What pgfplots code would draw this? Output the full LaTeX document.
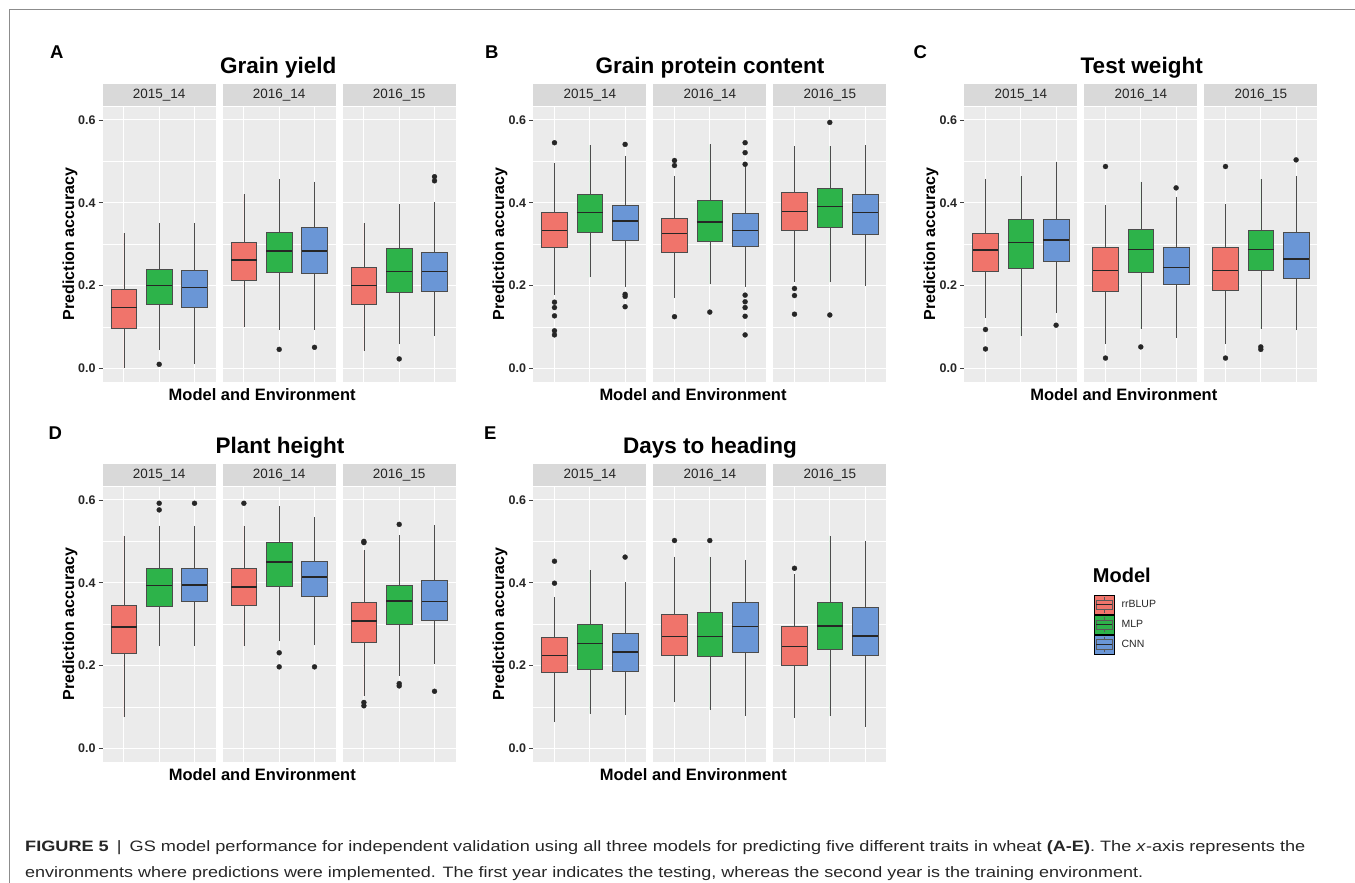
\documentclass[border=0pt]{standalone}
\usepackage{fontspec}
\setmainfont{Liberation Sans}
\usepackage{graphicx}
\usepackage{pgfplots}
\pgfplotsset{compat=1.18}
\usepgfplotslibrary{statistics}
\definecolor{cR}{HTML}{F0746B}
\definecolor{cG}{HTML}{2DB34A}
\definecolor{cB}{HTML}{6A96D6}
\definecolor{panelbg}{HTML}{EBEBEB}
\definecolor{stripbg}{HTML}{D9D9D9}
\pgfplotsset{
  facet/.style={
    scale only axis, width=113pt, height=275pt,
    xmin=0.4, xmax=3.6, ymin=-0.032, ymax=0.632,
    axis background/.style={fill=panelbg},
    axis line style={draw=none},
    xtick={1,2,3}, xticklabels={},
    ytick={0,0.2,0.4,0.6}, yticklabels={},
    minor ytick={0.1,0.3,0.5},
    grid=both,
    major grid style={white, line width=1.1pt},
    minor grid style={white, line width=0.55pt},
    xtick style={draw=none}, ytick style={draw=none},
    ytick pos=left, xtick pos=left,
    minor tick length=0pt, major tick length=4pt, tick align=outside,
    every axis title/.style={at={(0.5,1)}, anchor=south, fill=stripbg, minimum width=113pt, minimum height=22.7pt, inner sep=0pt, text=black!85, font=\fontsize{13.5}{14}\selectfont},
  },
  firstfacet/.style={
    yticklabels={0.0,0.2,0.4,0.6},
    ytick style={draw=black!75, line width=0.6pt},
    yticklabel style={font=\bfseries\fontsize{12.5}{13}\selectfont, text=black!85, inner sep=0pt, xshift=-3pt},
  },
  bp/.style={draw=black!70, line width=0.6pt, mark=*, mark size=2.5pt,
    mark options={fill=black!85, draw=black!85, line width=0.3pt},
    boxplot/draw direction=y, boxplot/box extend=0.73, boxplot/whisker extend=0,
    boxplot/every median/.style={line width=1.5pt, draw=black!85}},
  bx/.style n args={6}{boxplot prepared={draw position=#1, lower whisker=#2, lower quartile=#3, median=#4, upper quartile=#5, upper whisker=#6}},
  boxlegend/.style={legend image code/.code={
    \path (0pt,-9.7pt) rectangle (20pt,9.7pt);
    \draw[black!65, line width=0.6pt] (10pt,-7.8pt) -- (10pt,-4.85pt) (10pt,4.85pt) -- (10pt,7.8pt);
    \draw[##1, draw=black!65, line width=0.6pt] (2pt,-4.85pt) rectangle (18pt,4.85pt);
    \draw[black!85, line width=1.1pt] (2pt,0pt) -- (18pt,0pt);
  }},
}
\begin{document}
\begin{tikzpicture}[x=1pt,y=1pt]
\useasboundingbox (0,0) rectangle (1355,883);
\draw[black!45, line width=1pt] (9,0) -- (9,873.7) -- (1355,873.7);

% ---------------- Panel A: Grain yield ----------------
\begin{axis}[facet, firstfacet, at={(102.7pt,501.3pt)}, anchor=south west, title={2015\_14}]
\addplot[bp, fill=cR, bx={1}{0.0}{0.098}{0.147}{0.191}{0.326}] coordinates {};
\addplot[bp, fill=cG, bx={2}{0.044}{0.156}{0.2005}{0.240}{0.350}] table[row sep=\\, y index=0] {v\\0.010\\};
\addplot[bp, fill=cB, bx={3}{0.0105}{0.147}{0.196}{0.2376}{0.350}] coordinates {};
\end{axis}
\begin{axis}[facet, at={(222.7pt,501.3pt)}, anchor=south west, title={2016\_14}]
\addplot[bp, fill=cR, bx={1}{0.099}{0.212}{0.262}{0.304}{0.420}] coordinates {};
\addplot[bp, fill=cG, bx={2}{0.094}{0.232}{0.283}{0.329}{0.457}] table[row sep=\\, y index=0] {v\\0.046\\};
\addplot[bp, fill=cB, bx={3}{0.094}{0.2295}{0.283}{0.340}{0.451}] table[row sep=\\, y index=0] {v\\0.051\\};
\end{axis}
\begin{axis}[facet, at={(342.7pt,501.3pt)}, anchor=south west, title={2016\_15}]
\addplot[bp, fill=cR, bx={1}{0.043}{0.156}{0.2005}{0.244}{0.350}] coordinates {};
\addplot[bp, fill=cG, bx={2}{0.058}{0.184}{0.2335}{0.291}{0.396}] table[row sep=\\, y index=0] {v\\0.023\\};
\addplot[bp, fill=cB, bx={3}{0.078}{0.187}{0.2335}{0.2795}{0.401}] table[row sep=\\, y index=0] {v\\0.453\\0.463\\};
\end{axis}

% ---------------- Panel B: Grain protein content ----------------
\begin{axis}[facet, firstfacet, at={(533.3pt,501.3pt)}, anchor=south west, title={2015\_14}]
\addplot[bp, fill=cR, bx={1}{0.178}{0.2915}{0.3334}{0.377}{0.497}] table[row sep=\\, y index=0] {v\\0.545\\0.160\\0.147\\0.127\\0.091\\0.081\\};
\addplot[bp, fill=cG, bx={2}{0.220}{0.328}{0.376}{0.420}{0.539}] coordinates {};
\addplot[bp, fill=cB, bx={3}{0.196}{0.309}{0.356}{0.394}{0.513}] table[row sep=\\, y index=0] {v\\0.541\\0.179\\0.174\\0.149\\};
\end{axis}
\begin{axis}[facet, at={(653.3pt,501.3pt)}, anchor=south west, title={2016\_14}]
\addplot[bp, fill=cR, bx={1}{0.171}{0.281}{0.326}{0.362}{0.465}] table[row sep=\\, y index=0] {v\\0.502\\0.490\\0.125\\};
\addplot[bp, fill=cG, bx={2}{0.203}{0.308}{0.354}{0.406}{0.541}] table[row sep=\\, y index=0] {v\\0.136\\};
\addplot[bp, fill=cB, bx={3}{0.197}{0.2955}{0.333}{0.375}{0.491}] table[row sep=\\, y index=0] {v\\0.545\\0.521\\0.493\\0.177\\0.161\\0.147\\0.126\\0.081\\};
\end{axis}
\begin{axis}[facet, at={(773.3pt,501.3pt)}, anchor=south west, title={2016\_15}]
\addplot[bp, fill=cR, bx={1}{0.209}{0.334}{0.3785}{0.426}{0.537}] table[row sep=\\, y index=0] {v\\0.193\\0.176\\0.131\\};
\addplot[bp, fill=cG, bx={2}{0.208}{0.340}{0.3906}{0.435}{0.537}] table[row sep=\\, y index=0] {v\\0.594\\0.129\\};
\addplot[bp, fill=cB, bx={3}{0.199}{0.3245}{0.376}{0.4196}{0.539}] coordinates {};
\end{axis}

% ---------------- Panel C: Test weight ----------------
\begin{axis}[facet, firstfacet, at={(964.3pt,501.3pt)}, anchor=south west, title={2015\_14}]
\addplot[bp, fill=cR, bx={1}{0.122}{0.2345}{0.286}{0.327}{0.458}] table[row sep=\\, y index=0] {v\\0.094\\0.047\\};
\addplot[bp, fill=cG, bx={2}{0.078}{0.2426}{0.3036}{0.3606}{0.4635}] coordinates {};
\addplot[bp, fill=cB, bx={3}{0.134}{0.2594}{0.310}{0.359}{0.4996}] table[row sep=\\, y index=0] {v\\0.1044\\};
\end{axis}
\begin{axis}[facet, at={(1084.3pt,501.3pt)}, anchor=south west, title={2016\_14}]
\addplot[bp, fill=cR, bx={1}{0.060}{0.1863}{0.236}{0.2916}{0.395}] table[row sep=\\, y index=0] {v\\0.4876\\0.025\\};
\addplot[bp, fill=cG, bx={2}{0.0956}{0.233}{0.2867}{0.335}{0.451}] table[row sep=\\, y index=0] {v\\0.052\\};
\addplot[bp, fill=cB, bx={3}{0.074}{0.2024}{0.244}{0.293}{0.415}] table[row sep=\\, y index=0] {v\\0.436\\};
\end{axis}
\begin{axis}[facet, at={(1204.3pt,501.3pt)}, anchor=south west, title={2016\_15}]
\addplot[bp, fill=cR, bx={1}{0.0594}{0.188}{0.236}{0.2916}{0.397}] table[row sep=\\, y index=0] {v\\0.4876\\0.025\\};
\addplot[bp, fill=cG, bx={2}{0.0956}{0.237}{0.2867}{0.3325}{0.457}] table[row sep=\\, y index=0] {v\\0.052\\0.046\\};
\addplot[bp, fill=cB, bx={3}{0.092}{0.2177}{0.264}{0.329}{0.465}] table[row sep=\\, y index=0] {v\\0.5036\\};
\end{axis}

% ---------------- Panel D: Plant height ----------------
\begin{axis}[facet, firstfacet, at={(102.7pt,121.3pt)}, anchor=south west, title={2015\_14}]
\addplot[bp, fill=cR, bx={1}{0.076}{0.229}{0.293}{0.345}{0.514}] coordinates {};
\addplot[bp, fill=cG, bx={2}{0.247}{0.343}{0.393}{0.435}{0.538}] table[row sep=\\, y index=0] {v\\0.592\\0.576\\};
\addplot[bp, fill=cB, bx={3}{0.247}{0.356}{0.395}{0.435}{0.538}] table[row sep=\\, y index=0] {v\\0.592\\};
\end{axis}
\begin{axis}[facet, at={(222.7pt,121.3pt)}, anchor=south west, title={2016\_14}]
\addplot[bp, fill=cR, bx={1}{0.247}{0.345}{0.3896}{0.435}{0.538}] table[row sep=\\, y index=0] {v\\0.592\\};
\addplot[bp, fill=cG, bx={2}{0.2586}{0.392}{0.450}{0.498}{0.585}] table[row sep=\\, y index=0] {v\\0.231\\0.197\\};
\addplot[bp, fill=cB, bx={3}{0.249}{0.368}{0.414}{0.452}{0.558}] table[row sep=\\, y index=0] {v\\0.197\\};
\end{axis}
\begin{axis}[facet, at={(342.7pt,121.3pt)}, anchor=south west, title={2016\_15}]
\addplot[bp, fill=cR, bx={1}{0.127}{0.2554}{0.3076}{0.353}{0.478}] table[row sep=\\, y index=0] {v\\0.500\\0.497\\0.111\\0.103\\};
\addplot[bp, fill=cG, bx={2}{0.175}{0.300}{0.3566}{0.3936}{0.515}] table[row sep=\\, y index=0] {v\\0.541\\0.1566\\0.151\\};
\addplot[bp, fill=cB, bx={3}{0.205}{0.309}{0.355}{0.405}{0.540}] table[row sep=\\, y index=0] {v\\0.138\\};
\end{axis}

% ---------------- Panel E: Days to heading ----------------
\begin{axis}[facet, firstfacet, at={(533.3pt,121.3pt)}, anchor=south west, title={2015\_14}]
\addplot[bp, fill=cR, bx={1}{0.064}{0.183}{0.225}{0.268}{0.3655}] table[row sep=\\, y index=0] {v\\0.452\\0.399\\};
\addplot[bp, fill=cG, bx={2}{0.084}{0.190}{0.253}{0.299}{0.431}] coordinates {};
\addplot[bp, fill=cB, bx={3}{0.080}{0.186}{0.233}{0.279}{0.4016}] table[row sep=\\, y index=0] {v\\0.462\\};
\end{axis}
\begin{axis}[facet, at={(653.3pt,121.3pt)}, anchor=south west, title={2016\_14}]
\addplot[bp, fill=cR, bx={1}{0.111}{0.225}{0.270}{0.3245}{0.463}] table[row sep=\\, y index=0] {v\\0.502\\};
\addplot[bp, fill=cG, bx={2}{0.094}{0.223}{0.270}{0.329}{0.463}] table[row sep=\\, y index=0] {v\\0.502\\};
\addplot[bp, fill=cB, bx={3}{0.078}{0.231}{0.294}{0.353}{0.456}] coordinates {};
\end{axis}
\begin{axis}[facet, at={(773.3pt,121.3pt)}, anchor=south west, title={2016\_15}]
\addplot[bp, fill=cR, bx={1}{0.074}{0.2016}{0.2458}{0.295}{0.420}] table[row sep=\\, y index=0] {v\\0.435\\};
\addplot[bp, fill=cG, bx={2}{0.078}{0.2386}{0.296}{0.353}{0.514}] coordinates {};
\addplot[bp, fill=cB, bx={3}{0.052}{0.224}{0.2715}{0.340}{0.502}] coordinates {};
\end{axis}

% ---------------- Legend ----------------
\begin{axis}[hide axis, scale only axis, width=10pt, height=10pt, xmin=0, xmax=1, ymin=0, ymax=1,
  at={(1094pt,288.2pt)}, anchor=north west,
  legend style={at={(0,1)}, anchor=north west, draw=none, fill=none, inner sep=0pt, row sep=0pt,
    font=\fontsize{10.5}{12}\selectfont, text=black!85, nodes={inner sep=1pt},
    /tikz/every odd column/.append style={column sep=6pt}},
  legend cell align=left]
\addlegendimage{boxlegend, fill=cR}
\addlegendimage{boxlegend, fill=cG}
\addlegendimage{boxlegend, fill=cB}
\legend{rrBLUP, MLP, CNN}
\end{axis}
\node[anchor=base west, inner sep=0pt, font=\bfseries\fontsize{20}{22}\selectfont] at (1092.7,300.3) {Model};

% ---------------- Panel texts ----------------
\begin{scope}[every node/.style={inner sep=0pt}]
\node[anchor=base west, font=\bfseries\fontsize{18.5}{20}\selectfont] at (50,824.7) {A};
\node[anchor=base west, font=\bfseries\fontsize{18.5}{20}\selectfont] at (485,824.7) {B};
\node[anchor=base west, font=\bfseries\fontsize{18.5}{20}\selectfont] at (913.3,824.7) {C};
\node[anchor=base west, font=\bfseries\fontsize{18.5}{20}\selectfont] at (48.3,443) {D};
\node[anchor=base west, font=\bfseries\fontsize{18.5}{20}\selectfont] at (484,443) {E};

\node[anchor=base, font=\bfseries\fontsize{22.5}{24}\selectfont] at (278.3,809.7) {Grain yield};
\node[anchor=base, font=\bfseries\fontsize{22.5}{24}\selectfont] at (710,809.7) {Grain protein content};
\node[anchor=base, font=\bfseries\fontsize{22.5}{24}\selectfont] at (1141.7,809.7) {Test weight};
\node[anchor=base, font=\bfseries\fontsize{22.5}{24}\selectfont] at (280,429.7) {Plant height};
\node[anchor=base, font=\bfseries\fontsize{22.5}{24}\selectfont] at (710,429.7) {Days to heading};

\node[rotate=90, font=\bfseries\fontsize{16}{18}\selectfont] at (70,639) {Prediction accuracy};
\node[rotate=90, font=\bfseries\fontsize{16}{18}\selectfont] at (500,639) {Prediction accuracy};
\node[rotate=90, font=\bfseries\fontsize{16}{18}\selectfont] at (931,639) {Prediction accuracy};
\node[rotate=90, font=\bfseries\fontsize{16}{18}\selectfont] at (70,259) {Prediction accuracy};
\node[rotate=90, font=\bfseries\fontsize{16}{18}\selectfont] at (500,259) {Prediction accuracy};

\node[anchor=base, font=\bfseries\fontsize{16.5}{18}\selectfont] at (262.2,482.3) {Model and Environment};
\node[anchor=base, font=\bfseries\fontsize{16.5}{18}\selectfont] at (693,482.3) {Model and Environment};
\node[anchor=base, font=\bfseries\fontsize{16.5}{18}\selectfont] at (1123.8,482.3) {Model and Environment};
\node[anchor=base, font=\bfseries\fontsize{16.5}{18}\selectfont] at (262.3,102.5) {Model and Environment};
\node[anchor=base, font=\bfseries\fontsize{16.5}{18}\selectfont] at (693.3,102.5) {Model and Environment};

% caption
\node[anchor=base west, text=black!85] at (25,31.3) {\resizebox{1280pt}{10.9pt}{{\bfseries FIGURE 5} \,|\, GS model performance for independent validation using all three models for predicting five different traits in wheat {\bfseries (A-E)}. The \textit{x}-axis represents the}};
\node[anchor=base west, text=black!85] at (25,5.7) {\resizebox{1118pt}{10.9pt}{environments where predictions were implemented. The first year indicates the testing, whereas the second year is the training environment.}};
\end{scope}
\end{tikzpicture}
\end{document}
